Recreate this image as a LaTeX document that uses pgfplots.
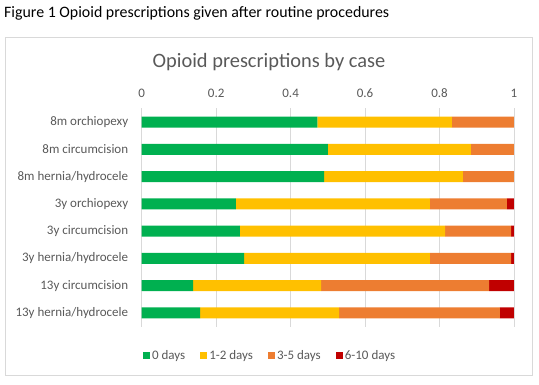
\documentclass[border=0pt]{standalone}
\usepackage{pgfplots}
\pgfplotsset{compat=1.18}
\usepackage{fontspec}
\setmainfont{Carlito}
\definecolor{cgreen}{HTML}{00B050}
\definecolor{cyellow}{HTML}{FFC000}
\definecolor{corange}{HTML}{ED7D31}
\definecolor{cred}{HTML}{C00000}
\definecolor{ctext}{HTML}{595959}
\definecolor{cgrid}{HTML}{D9D9D9}
\begin{document}
\begin{tikzpicture}[x=1pt,y=1pt]
\path[use as bounding box] (0,0) rectangle (539,384);
\draw[color=cgrid] (5,347) rectangle (532,9);
\node[anchor=west,inner sep=0,font=\fontsize{15.9}{17}\selectfont] at (4,371) {Figure 1 Opioid prescriptions given after routine procedures};
\node[font=\fontsize{20.4}{22}\selectfont,text=ctext] at (269,322) {Opioid prescriptions by case};
\begin{axis}[
  at={(141.7pt,57pt)}, anchor=south west,
  scale only axis, width=372.3pt, height=219pt,
  xbar stacked, bar width=11pt,
  xmin=0, xmax=1,
  ymin=-0.52, ymax=7.52, y dir=reverse,
  xtick={0,0.2,0.4,0.6,0.8,1},
  ytick={0,1,2,3,4,5,6,7},
  yticklabels={8m orchiopexy,8m circumcision,8m hernia/hydrocele,3y orchiopexy,3y circumcision,3y hernia/hydrocele,13y circumcision,13y hernia/hydrocele},
  xticklabel pos=upper,
  /pgf/number format/assume math mode=true,
  ticklabel style={font=\fontsize{13}{15}\selectfont,text=ctext},
  xticklabel style={yshift=6.5pt},
  yticklabel style={xshift=-10pt},
  axis line style={draw=none},
  tick style={draw=none},
  xmajorgrids, grid style={cgrid, line width=0.8pt},
  legend columns=4,
  legend style={at={(0.345,-0.132)},anchor=center,draw=none,fill=none,
    font=\fontsize{13}{15}\selectfont,text=ctext,
    /tikz/every even column/.append style={column sep=13pt}},
  legend image code/.code={\fill[#1] (0pt,-3.5pt) rectangle (7pt,3.5pt);},
]
\addplot[fill=cgreen,draw=none] coordinates {(0.472,0) (0.500,1) (0.490,2) (0.253,3) (0.264,4) (0.275,5) (0.138,6) (0.157,7)};
\addplot[fill=cyellow,draw=none] coordinates {(0.361,0) (0.384,1) (0.373,2) (0.521,3) (0.551,4) (0.499,5) (0.344,6) (0.373,7)};
\addplot[fill=corange,draw=none] coordinates {(0.167,0) (0.116,1) (0.137,2) (0.207,3) (0.177,4) (0.218,5) (0.451,6) (0.432,7)};
\addplot[fill=cred,draw=none] coordinates {(0,0) (0,1) (0,2) (0.019,3) (0.008,4) (0.008,5) (0.067,6) (0.038,7)};
\legend{0 days,1-2 days,3-5 days,6-10 days}
\end{axis}
\end{tikzpicture}
\end{document}
